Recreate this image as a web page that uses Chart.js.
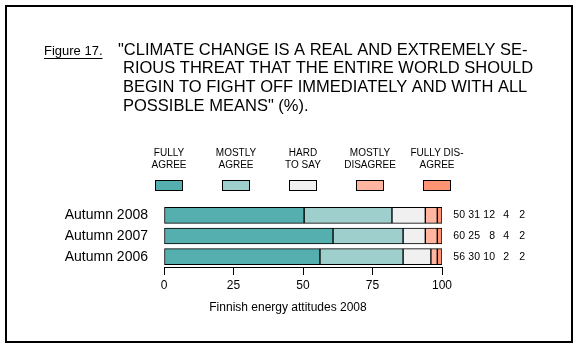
<!DOCTYPE html>
<html>
<head>
<meta charset="utf-8">
<script src="https://cdn.jsdelivr.net/npm/chart.js@4/dist/chart.umd.min.js"></script>
<style>
  html, body { margin: 0; padding: 0; background: #fff; }
  canvas { display: block; }
</style>
</head>
<body>
<canvas id="climateChart" width="577" height="348"></canvas>
<script>
const categories = ["Autumn 2008", "Autumn 2007", "Autumn 2006"];
const fullyAgree = [50.4, 60.8, 56.1];
const mostlyAgree = [31.6, 25.2, 29.9];
const hardToSay = [12.0, 8.0, 10.0];
const mostlyDisagree = [4.3, 4.3, 2.3];
const fullyDisagree = [1.7, 1.7, 1.7];
// the rounded figures printed on the right
const printedValues = [
    [50, 31, 12, 4, 2],
    [60, 25, 8, 4, 2],
    [56, 30, 10, 2, 2]
];
const legendLines = [
    ["FULLY", "AGREE"],
    ["MOSTLY", "AGREE"],
    ["HARD", "TO SAY"],
    ["MOSTLY", "DISAGREE"],
    ["FULLY DIS-", "AGREE"]
];
const titleLines = [
    "\"CLIMATE CHANGE IS A REAL AND EXTREMELY SE-",
    "RIOUS THREAT THAT THE ENTIRE WORLD SHOULD",
    "BEGIN TO FIGHT OFF IMMEDIATELY AND WITH ALL",
    "POSSIBLE MEANS\" (%)."
];
const figureLabel = "Figure 17.";
const footerText = "Finnish energy attitudes 2008";
const xTicks = [0, 25, 50, 75, 100];

const colors = ["#56afaf", "#9ecfcd", "#f0f0f0", "#ffb5a0", "#ff9474"];
const FONT = "'Liberation Sans', Arial, sans-serif";

const canvas = document.getElementById("climateChart");
const ctx = canvas.getContext("2d");

const decorations = {
    id: "decorations",
    beforeDraw(chart){
        const c = chart.ctx;
        c.save();
        c.fillStyle = "#fff";
        c.fillRect(0, 0, chart.width, chart.height);
        c.strokeStyle = "#000";
        c.lineWidth = 2;
        c.strokeRect(6, 6, 566, 336);
        c.restore();
    },
    afterDraw(chart){
        const c = chart.ctx;
        c.save();
        c.fillStyle = "#000";
        c.textBaseline = "middle";

        // figure label, underlined
        c.font = "13px " + FONT;
        c.textAlign = "left";
        c.fillText(figureLabel, 44, 51);
        const w = c.measureText(figureLabel).width;
        c.fillRect(44, 58, w, 1);

        // title
        c.font = "16.5px " + FONT;
        titleLines.forEach((line, i) => {
            const x = i === 0 ? 118 : 123;
            c.fillText(line, x, 50 + i * 18.7);
        });

        // legend
        c.textAlign = "center";
        c.font = "10px " + FONT;
        chart.data.datasets.forEach((ds, i) => {
            const cx = 169 + i * 67;
            legendLines[i].forEach((t, j) => c.fillText(t, cx, 153 + j * 12.5));
            c.fillStyle = ds.backgroundColor;
            c.fillRect(cx - 14, 180, 28, 10);
            c.strokeStyle = "#000";
            c.lineWidth = 1;
            c.strokeRect(cx - 13.5, 180.5, 27, 10);
            c.fillStyle = "#000";
        });

        // printed values
        const yScale = chart.scales.y;
        const cols = [465, 480, 495, 509, 525];
        c.font = "10.5px " + FONT;
        c.textAlign = "right";
        categories.forEach((cat, i) => {
            const y = yScale.getPixelForValue(i);
            printedValues[i].forEach((v, j) => c.fillText(String(v), cols[j], y));
        });

        // footer
        c.textAlign = "center";
        c.font = "12px " + FONT;
        c.fillText(footerText, 288, 308);
        c.restore();
    }
};

const datasetLabels = legendLines.map(l => l.join(" "));
const series = [fullyAgree, mostlyAgree, hardToSay, mostlyDisagree, fullyDisagree];

new Chart(ctx, {
    type: "bar",
    data: {
        labels: categories,
        datasets: series.map((values, i) => ({
            label: datasetLabels[i],
            data: values,
            backgroundColor: colors[i],
            borderColor: "#000",
            borderWidth: 1,
            borderSkipped: false,
            barThickness: 16
        }))
    },
    options: {
        indexAxis: "y",
        responsive: false,
        animation: false,
        events: [],
        layout: {
            padding: {left: 4, right: 135, top: 205, bottom: 51}
        },
        plugins: {
            legend: {display: false},
            tooltip: {enabled: false}
        },
        scales: {
            x: {
                stacked: true,
                min: 0,
                max: 100,
                afterBuildTicks: (scale) => {
                    scale.ticks = xTicks.map(v => ({value: v}));
                },
                afterFit: (scale) => { scale.height = 30; },
                grid: {
                    drawOnChartArea: false,
                    drawTicks: true,
                    tickLength: 8,
                    color: "#000"
                },
                border: {display: true, color: "#000", width: 1},
                ticks: {
                    color: "#000",
                    padding: 3,
                    maxRotation: 0,
                    font: {family: FONT, size: 12}
                }
            },
            y: {
                stacked: true,
                afterFit: (scale) => { scale.width = 160; },
                grid: {display: false},
                border: {display: false},
                ticks: {
                    color: "#000",
                    padding: 8,
                    autoSkip: false,
                    font: {family: FONT, size: 14}
                }
            }
        }
    },
    plugins: [decorations]
});
</script>
</body>
</html>
